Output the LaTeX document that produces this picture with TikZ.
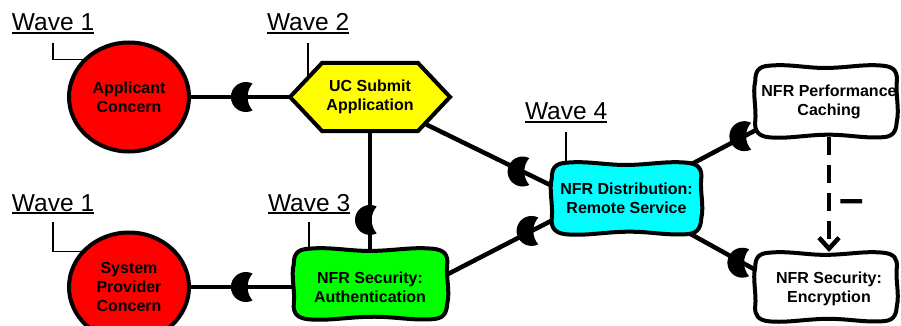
\documentclass[tikz,border=0pt]{standalone}
\usepackage{fontspec}
\setmainfont{Liberation Sans}
\usetikzlibrary{shapes.geometric, arrows.meta, decorations.markings}
\pgfdeclarelayer{bg}
\pgfdeclarelayer{mid}
\pgfsetlayers{bg,mid,main}

\definecolor{goalred}{RGB}{255,0,0}
\definecolor{taskyellow}{RGB}{255,255,0}
\definecolor{sgreen}{RGB}{0,255,0}
\definecolor{scyan}{RGB}{0,255,255}

% wavy outline of a softgoal, in unit coordinates (y grows downwards)
\newcommand{\softgoaloutline}{(-0.80,-0.98) .. controls (-0.50,-1.04) and (-0.25,-0.90) .. (0.05,-0.92)
  .. controls (0.35,-0.94) and (0.55,-1.03) .. (0.80,-0.98)
  .. controls (0.96,-0.95) and (1.00,-0.80) .. (0.99,-0.55)
  .. controls (0.97,-0.20) and (1.03,0.20) .. (0.99,0.55)
  .. controls (0.98,0.85) and (0.93,0.97) .. (0.78,0.98)
  .. controls (0.50,1.01) and (0.30,0.90) .. (0.00,0.91)
  .. controls (-0.30,0.92) and (-0.55,1.03) .. (-0.80,0.98)
  .. controls (-0.95,0.95) and (-1.00,0.80) .. (-0.99,0.55)
  .. controls (-0.97,0.20) and (-1.03,-0.25) .. (-0.99,-0.55)
  .. controls (-0.99,-0.82) and (-0.95,-0.96) .. (-0.80,-0.98) -- cycle}

\tikzset{
  edge/.style={line width=4.5pt},
  outline/.style={draw=black, line width=4pt},
  nodetext/.style={font=\bfseries\fontsize{16}{19}\selectfont, align=center, inner sep=0pt, outer sep=0pt},
  concern/.style={nodetext, ellipse, outline, fill=goalred, minimum width=120pt, minimum height=109pt},
  wave/.style={font=\fontsize{24.5}{28}\selectfont, inner sep=0pt, outer sep=0pt, anchor=base west},
  underline/.style={line width=2pt},
  leader/.style={line width=1.5pt},
  % decomposition mark: a disc with a concave notch, round side towards the parent
  andmark/.pic={\fill (6.7,-13.4) arc[start angle=-63.4, end angle=-296.6, radius=15]
      .. controls (0,6) and (0,-6) .. (6.7,-13.4) -- cycle;},
  andlink/.style={edge, postaction={decorate, decoration={markings, mark=at position #1 with {\pic{andmark};}}}},
}

\begin{document}
\begin{tikzpicture}[x=1pt, y=-1pt]
\useasboundingbox (0,0) rectangle (901,326);

% goals, task and softgoals
\node[concern] (app) at (129,97) {Applicant\\Concern};
\node[concern] (spc) at (129,287) {System\\Provider\\Concern};
\node[nodetext, minimum width=160pt, minimum height=68pt] (uc) at (370,97) {UC Submit\\Application};
\node[nodetext, minimum width=150pt, minimum height=70pt] (auth) at (370,287) {NFR Security:\\Authentication};
\node[nodetext, minimum width=148pt, minimum height=70pt] (dist) at (626.5,198.5) {NFR Distribution:\\Remote Service};
\node[nodetext, minimum width=140pt, minimum height=71pt] (cach) at (829,101.5) {NFR Performance\\Caching};
\node[nodetext, minimum width=140pt, minimum height=74pt] (encr) at (829,289) {NFR Security:\\Encryption};

% wave labels
\node[wave] (w1a) at (12,31) {Wave 1};
\node[wave] (w2) at (267,31) {Wave 2};
\node[wave] (w1b) at (12,211) {Wave 1};
\node[wave] (w3) at (268,211) {Wave 3};
\node[wave] (w4) at (525,120) {Wave 4};
\foreach \w in {w1a,w2,w1b,w3,w4}
  \draw[underline] ([yshift=-2pt]\w.base west) -- ([yshift=-2pt]\w.base east);

% contribution label
\node[font=\bfseries\fontsize{44}{44}\selectfont, inner sep=0pt, anchor=base] (minus) at (852,213) {–};

\begin{pgfonlayer}{mid}
  \begin{scope}[shift={(uc.center)}]
    \draw[outline, fill=taskyellow] (-80,0) -- (-48,-34) -- (48,-34) -- (80,0) -- (48,34) -- (-48,34) -- cycle;
  \end{scope}
  \draw[outline, fill=sgreen, shift={(370.5,284)}, xscale=77.5, yscale=36] \softgoaloutline;
  \draw[outline, fill=scyan, shift={(626.5,198.5)}, xscale=75.5, yscale=36.5] \softgoaloutline;
  \draw[outline, fill=white, shift={(826,101.5)}, xscale=71.5, yscale=36.5] \softgoaloutline;
  \draw[outline, fill=white, shift={(826,287)}, xscale=71.5, yscale=35] \softgoaloutline;
\end{pgfonlayer}

\begin{pgfonlayer}{bg}
  \fill[white] (0,0) rectangle (901,326);
  % decomposition links
  \draw[andlink=0.485] (app.center) -- (uc.center);
  \draw[andlink=0.485] (spc.center) -- (auth.center);
  \draw[andlink=0.647] (uc.center) -- (auth.center);
  \draw[andlink=0.797] (uc.center) -- ([shift={(-65,-8)}]dist.center);
  \draw[andlink=0.763] ([shift={(67,-7.3)}]auth.center) -- ([shift={(-65.5,17.3)}]dist.center);
  \draw[andlink=0.591] (dist.center) -- ([shift={(-3,-8.5)}]cach.center);
  \draw[andlink=0.581] (dist.center) -- ([shift={(-3,20)}]encr.center);
  % correlation link
  \draw[edge, dash pattern=on 18pt off 10pt, -{Straight Barb[length=11pt, width=20pt]}] (cach.south) -- (encr.north);
  % wave leaders
  \draw[leader] ([yshift=-12pt]w1a.south) |- (app.139);
  \draw[leader] ([yshift=-11pt]w1b.south) |- (spc.142);
  \draw[leader] ([yshift=-12pt]w2.south) -- (w2.south |- uc.center);
  \draw[leader] ([yshift=-11pt]w3.south) -- (w3.south |- auth.center);
  \draw[leader] ([yshift=-12pt]w4.south) -- (w4.south |- dist.center);
\end{pgfonlayer}
\end{tikzpicture}
\end{document}
